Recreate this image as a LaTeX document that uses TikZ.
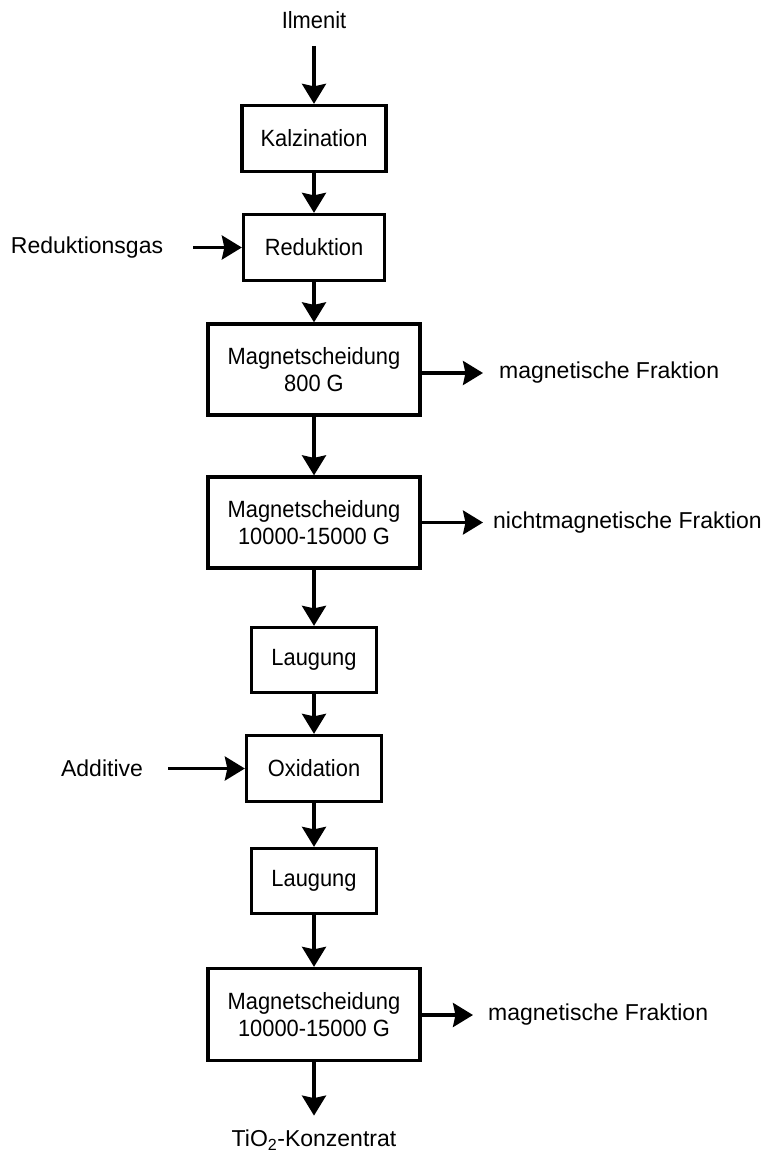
\documentclass[tikz,border=0pt]{standalone}
\usepackage{fontspec}
\setmainfont{Liberation Sans}
\newfontfamily\boxfont[FakeStretch=0.93]{Liberation Sans}
\usetikzlibrary{arrows.meta}

\begin{document}
\begin{tikzpicture}[x=1pt, y=-1pt]
	\tikzstyle{stage}=[draw=black, line width=3.3pt, align=center, fill=none, text=black, minimum width=141pt, minimum height=66pt, font=\fontsize{23.5}{27}\selectfont\boxfont]
	\tikzstyle{bigstage}=[stage, minimum width=212pt, minimum height=91pt]
	\tikzstyle{txt}=[inner sep=0pt, text=black, font=\fontsize{23}{27}\selectfont]
	\tikzstyle{flow}=[-{Stealth[length=20pt, width=24pt, inset=2.5pt]}, line width=3.3pt]

	\useasboundingbox (0,0) rectangle (764,1156);

	% main line
	\node (ilm) at (314,20) [txt, font=\fontsize{23.5}{27}\selectfont\boxfont] {Ilmenit};
	\node (kal) at (314,138.5) [stage, minimum width=144pt] {Kalzination};
	\node (red) at (314,247.5) [stage] {Reduktion};
	\node (ms1) at (314,369.5) [bigstage] {Magnetscheidung\\800 G};
	\node (ms2) at (314,522.5) [bigstage] {Magnetscheidung\\10000-15000 G};
	\node (lg1) at (314,660) [stage, minimum width=125pt, minimum height=65pt] {Laugung};
	\node (ox) at (314,768.5) [stage, minimum width=135pt] {Oxidation};
	\node (lg2) at (314,881) [stage, minimum width=125pt, minimum height=65pt] {Laugung};
	\node (ms3) at (314,1014.5) [bigstage, minimum height=92pt] {Magnetscheidung\\10000-15000 G};
	\node (tio) at (314,1140) [txt] {TiO\textsubscript{2}-Konzentrat};

	% inputs and outputs
	\node (rgas) at (87,247.5) [txt] {Reduktionsgas};
	\node (add) at (102,768.5) [txt] {Additive};
	\node (mf1) at (499,373) [txt, anchor=west] {magnetische Fraktion};
	\node (nmf) at (493,522.5) [txt, anchor=west] {nichtmagnetische Fraktion};
	\node (mf3) at (488,1015) [txt, anchor=west] {magnetische Fraktion};

	\draw [flow, shorten <=17pt] (ilm) -- (kal);
	\draw [flow] (kal) -- (red);
	\draw [flow] (red) -- (ms1);
	\draw [flow] (ms1) -- (ms2);
	\draw [flow] (ms2) -- (lg1);
	\draw [flow] (lg1) -- (ox);
	\draw [flow] (ox) -- (lg2);
	\draw [flow] (lg2) -- (ms3);
	\draw [flow, shorten >=14pt] (ms3) -- (tio);

	\draw [flow, shorten <=30pt] (rgas) -- (red);
	\draw [flow, shorten <=25pt] (add) -- (ox);
	\draw [flow, shorten >=16pt] (ms1.east |- mf1.west) -- (mf1.west);
	\draw [flow, shorten >=10pt] (ms2) -- (nmf.west);
	\draw [flow, shorten >=15pt] (ms3.east |- mf3.west) -- (mf3.west);
\end{tikzpicture}
\end{document}
